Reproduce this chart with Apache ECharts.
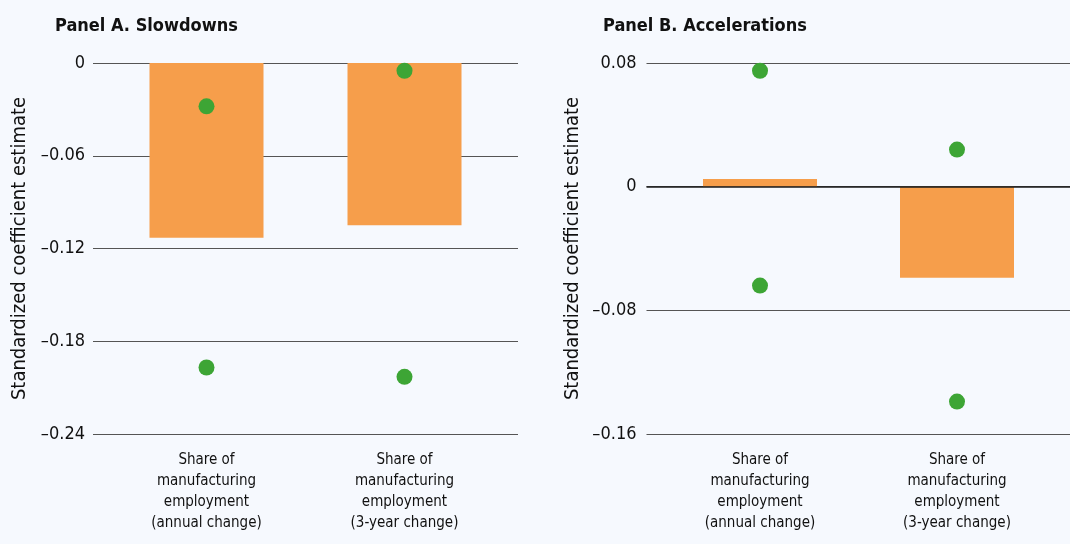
<!DOCTYPE html>
<html>
<head>
<meta charset="utf-8">
<script src="https://cdn.jsdelivr.net/npm/echarts@6/dist/echarts.min.js"></script>
<style>
html,body{margin:0;padding:0;background:#f6f9fe;}
#chart{width:1070px;height:544px;}
</style>
</head>
<body>
<div id="chart"></div>
<script>
var categories = ['Share of\nmanufacturing\nemployment\n(annual change)', 'Share of\nmanufacturing\nemployment\n(3-year change)'];
var slowBar = [-0.113, -0.105];
var slowUpper = [-0.028, -0.005];
var slowLower = [-0.197, -0.203];
var accelBar = [0.005, -0.059];
var accelUpper = [0.075, 0.024];
var accelLower = [-0.064, -0.139];
var slowAxis = {min: -0.24, max: 0, interval: 0.06};
var accelAxis = {min: -0.16, max: 0.08, interval: 0.08};
var titles = ['Panel A. Slowdowns', 'Panel B. Accelerations'];
var yName = 'Standardized coefficient estimate';

var FONT = "'Liberation Sans Narrow', 'DejaVu Sans Condensed', sans-serif";
var TXT = '#111';
var ORANGE = '#f69e4b';
var GREEN = '#3da535';

function fmt(v) {
  if (v === 0) return '0';
  var s = Math.abs(v).toFixed(2);
  return (v < 0 ? '\u2013' : '') + s;
}

var chart = echarts.init(document.getElementById('chart'));
var xLabel = {margin: 16, fontSize: 15, lineHeight: 21, color: TXT, fontFamily: FONT, interval: 0};
var option = {
  backgroundColor: '#f6f9fe',
  animation: false,
  textStyle: {fontFamily: FONT},
  title: [
    {text: titles[0], left: 55, top: 17, padding: 0, textStyle: {fontFamily: FONT, fontSize: 18, fontWeight: 'bold', color: TXT}},
    {text: titles[1], left: 603, top: 17, padding: 0, textStyle: {fontFamily: FONT, fontSize: 18, fontWeight: 'bold', color: TXT}}
  ],
  grid: [
    {left: 93, top: 63, width: 425, height: 371},
    {left: 107.5, top: 63, width: 396, height: 371},
    {left: 646.5, top: 63, width: 423.5, height: 371},
    {left: 661.5, top: 63, width: 394, height: 371}
  ],
  xAxis: [
    {gridIndex: 0, type: 'value', min: 0, max: 1, show: false},
    {gridIndex: 1, type: 'category', data: categories,
      axisLine: {show: false}, axisTick: {show: false}, axisLabel: xLabel},
    {gridIndex: 2, type: 'value', min: 0, max: 1, show: false},
    {gridIndex: 3, type: 'category', data: categories,
      axisLine: {show: false}, axisTick: {show: false}, axisLabel: xLabel}
  ],
  yAxis: [
    {gridIndex: 0, type: 'value', min: slowAxis.min, max: slowAxis.max, interval: slowAxis.interval,
      name: yName, nameLocation: 'middle', nameGap: 63,
      nameTextStyle: {fontSize: 20, color: TXT, fontFamily: FONT},
      axisLine: {show: false}, axisTick: {show: false},
      axisLabel: {margin: 8, fontSize: 18, color: TXT, fontFamily: FONT, formatter: fmt},
      splitLine: {show: true, lineStyle: {color: '#555', width: 1}}},
    {gridIndex: 1, type: 'value', min: slowAxis.min, max: slowAxis.max, interval: slowAxis.interval, show: false, splitLine: {show: false}},
    {gridIndex: 2, type: 'value', min: accelAxis.min, max: accelAxis.max, interval: accelAxis.interval,
      name: yName, nameLocation: 'middle', nameGap: 64,
      nameTextStyle: {fontSize: 20, color: TXT, fontFamily: FONT},
      axisLine: {show: false}, axisTick: {show: false},
      axisLabel: {margin: 10, fontSize: 18, color: TXT, fontFamily: FONT, formatter: fmt},
      splitLine: {show: true, lineStyle: {color: '#555', width: 1}}},
    {gridIndex: 3, type: 'value', min: accelAxis.min, max: accelAxis.max, interval: accelAxis.interval, show: false, splitLine: {show: false}}
  ],
  series: [
    {type: 'bar', xAxisIndex: 1, yAxisIndex: 1, data: slowBar, barWidth: 114, itemStyle: {color: ORANGE}},
    {type: 'scatter', xAxisIndex: 1, yAxisIndex: 1, data: slowUpper, symbolSize: 16, itemStyle: {color: GREEN, opacity: 1}, z: 5},
    {type: 'scatter', xAxisIndex: 1, yAxisIndex: 1, data: slowLower, symbolSize: 16, itemStyle: {color: GREEN, opacity: 1}, z: 5},
    {type: 'line', xAxisIndex: 2, yAxisIndex: 2, data: [[0, 0]], symbolSize: 0, lineStyle: {width: 0}, silent: true,
      markLine: {silent: true, symbol: 'none', label: {show: false}, lineStyle: {color: '#1a1a1a', width: 1.5, type: 'solid'},
        data: [{yAxis: 0}]}, z: 1},
    {type: 'bar', xAxisIndex: 3, yAxisIndex: 3, data: accelBar, barWidth: 114, itemStyle: {color: ORANGE}},
    {type: 'scatter', xAxisIndex: 3, yAxisIndex: 3, data: accelUpper, symbolSize: 16, itemStyle: {color: GREEN, opacity: 1}, z: 5},
    {type: 'scatter', xAxisIndex: 3, yAxisIndex: 3, data: accelLower, symbolSize: 16, itemStyle: {color: GREEN, opacity: 1}, z: 5}
  ]
};
chart.setOption(option);
</script>
</body>
</html>
